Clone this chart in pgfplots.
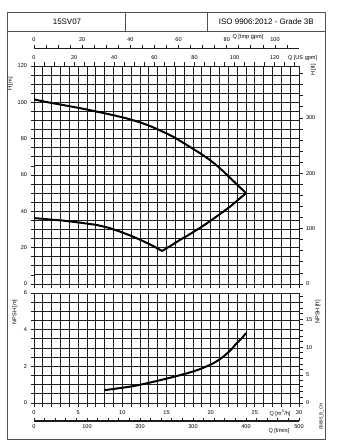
\documentclass[border=0pt]{standalone}
\usepackage{fontspec}
\setmainfont{Liberation Sans}
\usepackage{pgfplots}
\pgfplotsset{compat=1.18}
\usepackage{pgfplotstable}
\definecolor{gridc}{HTML}{1E1E1E}
\definecolor{framec}{HTML}{505050}

\pgfplotstableread{
q h
0 101.6
1.6 100.0
3.3 98.5
5.2 96.8
7.1 94.9
9.0 92.9
10.9 90.6
12.8 87.6
14.6 83.8
16.0 80.4
17.3 76.5
18.6 72.6
19.9 68.3
21.1 63.5
22.2 58.4
23.1 54.2
24.0 50.0
}\hmax

\pgfplotstableread{
q h
0 36.3
1.6 35.6
3.3 34.9
5.2 33.8
7.1 32.5
8.5 30.9
9.7 28.9
11.0 26.5
12.0 24.4
13.3 21.4
14.5 18.2
15.5 21.1
16.5 24.2
17.5 27.0
18.4 29.7
19.3 32.5
20.1 35.2
21.2 39.0
22.2 42.6
23.1 46.3
24.0 50.0
}\hmin

\pgfplotstableread{
q n
8.0 0.70
9.5 0.80
11.2 0.92
13.0 1.10
15.0 1.33
17.3 1.62
18.8 1.85
20.3 2.17
21.1 2.41
21.8 2.68
22.4 2.96
22.9 3.24
23.5 3.52
24.0 3.82
}\npsh

\pgfplotsset{
  base/.style={
    scale only axis, width=265bp, xmin=0, xmax=30,
    tick label style={font=\fontsize{5.6}{6}\selectfont, text=black},
    /pgf/number format/assume math mode=true,
    tick style={gridc, line width=0.75bp},
    major tick length=3.5bp, minor tick length=3.5bp,
    tick align=outside,
    axis line style={gridc, line width=0.95bp},
  },
  gridded/.style={
    grid=both,
    major grid style={gridc, line width=0.85bp},
    minor grid style={gridc, line width=0.85bp},
  },
  curve/.style={black, line width=2bp, no marks, line join=round},
}

\begin{document}
\begin{tikzpicture}[x=1bp,y=1bp]
\path[fill=white] (0,0) rectangle (337,-447);
% frame and title row
\draw[framec, line width=0.8bp] (7.3,-12.5) rectangle (325.3,-439.3);
\draw[framec, line width=0.8bp] (7.3,-31) -- (325.3,-31);
\draw[framec, line width=0.8bp] (125.7,-12.5) -- (125.7,-31) (207.3,-12.5) -- (207.3,-31);
\node[font=\fontsize{8}{9}\selectfont] at (67,-21.8) {15SV07};
\node[font=\fontsize{8}{9}\selectfont] at (266.3,-21.8) {ISO 9906:2012 - Grade 3B};

% ---------- upper plot: H [m]
\begin{axis}[base, gridded, at={(34bp,-284bp)}, anchor=south west, height=218bp,
  ymin=0, ymax=120,
  xtick={0,1,...,30}, xticklabels={},
  ytick={0,20,...,120}, minor ytick={0,5,...,120},
  xtick pos=bottom, ytick pos=left]
\addplot[curve, smooth] table[x=q,y=h] {\hmax};
\addplot[curve] table[x=q,y=h] {\hmin};
\end{axis}
% US gpm (top) and H [ft] (right)
\begin{axis}[base, at={(34bp,-284bp)}, anchor=south west, height=218bp,
  xmin=0, xmax=132.086, ymin=0, ymax=393.70,
  axis x line*=top, axis y line*=right,
  xtick={0,20,...,120}, minor xtick={0,5,...,130},
  ytick={0,100,200,300}, minor ytick={0,20,...,380},
  xticklabel style={yshift=-0.5bp}]
\end{axis}
% Imp gpm scale
\begin{axis}[base, at={(34bp,-48.3bp)}, anchor=north west, height=1bp,
  xmin=0, xmax=109.98, ymin=0, ymax=1,
  axis x line*=top, hide y axis,
  xtick={0,20,...,100}, minor xtick={0,5,...,105},
  major tick length=3bp, minor tick length=3bp,
  axis line style={gridc, line width=1.2bp}]
\end{axis}

% ---------- lower plot: NPSH [m]
\begin{axis}[base, gridded, at={(34bp,-403bp)}, anchor=south west, height=110bp,
  ymin=0, ymax=6,
  xtick={0,5,...,30}, minor xtick={0,1,...,30},
  ytick={0,2,4,6}, minor ytick={0,0.5,...,6},
  xtick pos=bottom, ytick pos=left,
  xticklabel style={yshift=-1bp}]
\addplot[curve, smooth] table[x=q,y=n] {\npsh};
\end{axis}
% NPSH [ft] right
\begin{axis}[base, at={(34bp,-403bp)}, anchor=south west, height=110bp,
  ymin=0, ymax=19.685,
  axis y line*=right, hide x axis,
  ytick={0,5,10,15}, minor ytick={0,1,...,19}]
\end{axis}
% l/min scale
\begin{axis}[base, at={(34bp,-421bp)}, anchor=south west, height=1bp,
  xmin=0, xmax=500, ymin=0, ymax=1,
  axis x line*=bottom, hide y axis,
  tick align=inside,
  xtick={0,100,...,500}, minor xtick={0,20,...,500},
  major tick length=3bp, minor tick length=3bp,
  axis line style={gridc, line width=1.2bp}]
\end{axis}

% axis titles
\begin{scope}[font=\fontsize{5.6}{6}\selectfont]
\node[rotate=90] at (10.5,-84) {H [m]};
\node[rotate=90] at (313.5,-70) {H [ft]};
\node[rotate=90] at (15,-312) {NPSH [m]};
\node[rotate=90] at (318,-312) {NPSH [ft]};
\node[anchor=west] at (284.5,-58) {Q [US gpm]};
\node[anchor=west] at (229,-37) {Q [Imp gpm]};
\node[anchor=west] at (266,-413.3) {Q [m\textsuperscript{3}/h]};
\node[anchor=west] at (265,-431.5) {Q [l/min]};
\node[rotate=90, font=\fontsize{4.5}{5}\selectfont] at (321.5,-416.5) {09895\_B\_CH};
\end{scope}
\end{tikzpicture}
\end{document}
